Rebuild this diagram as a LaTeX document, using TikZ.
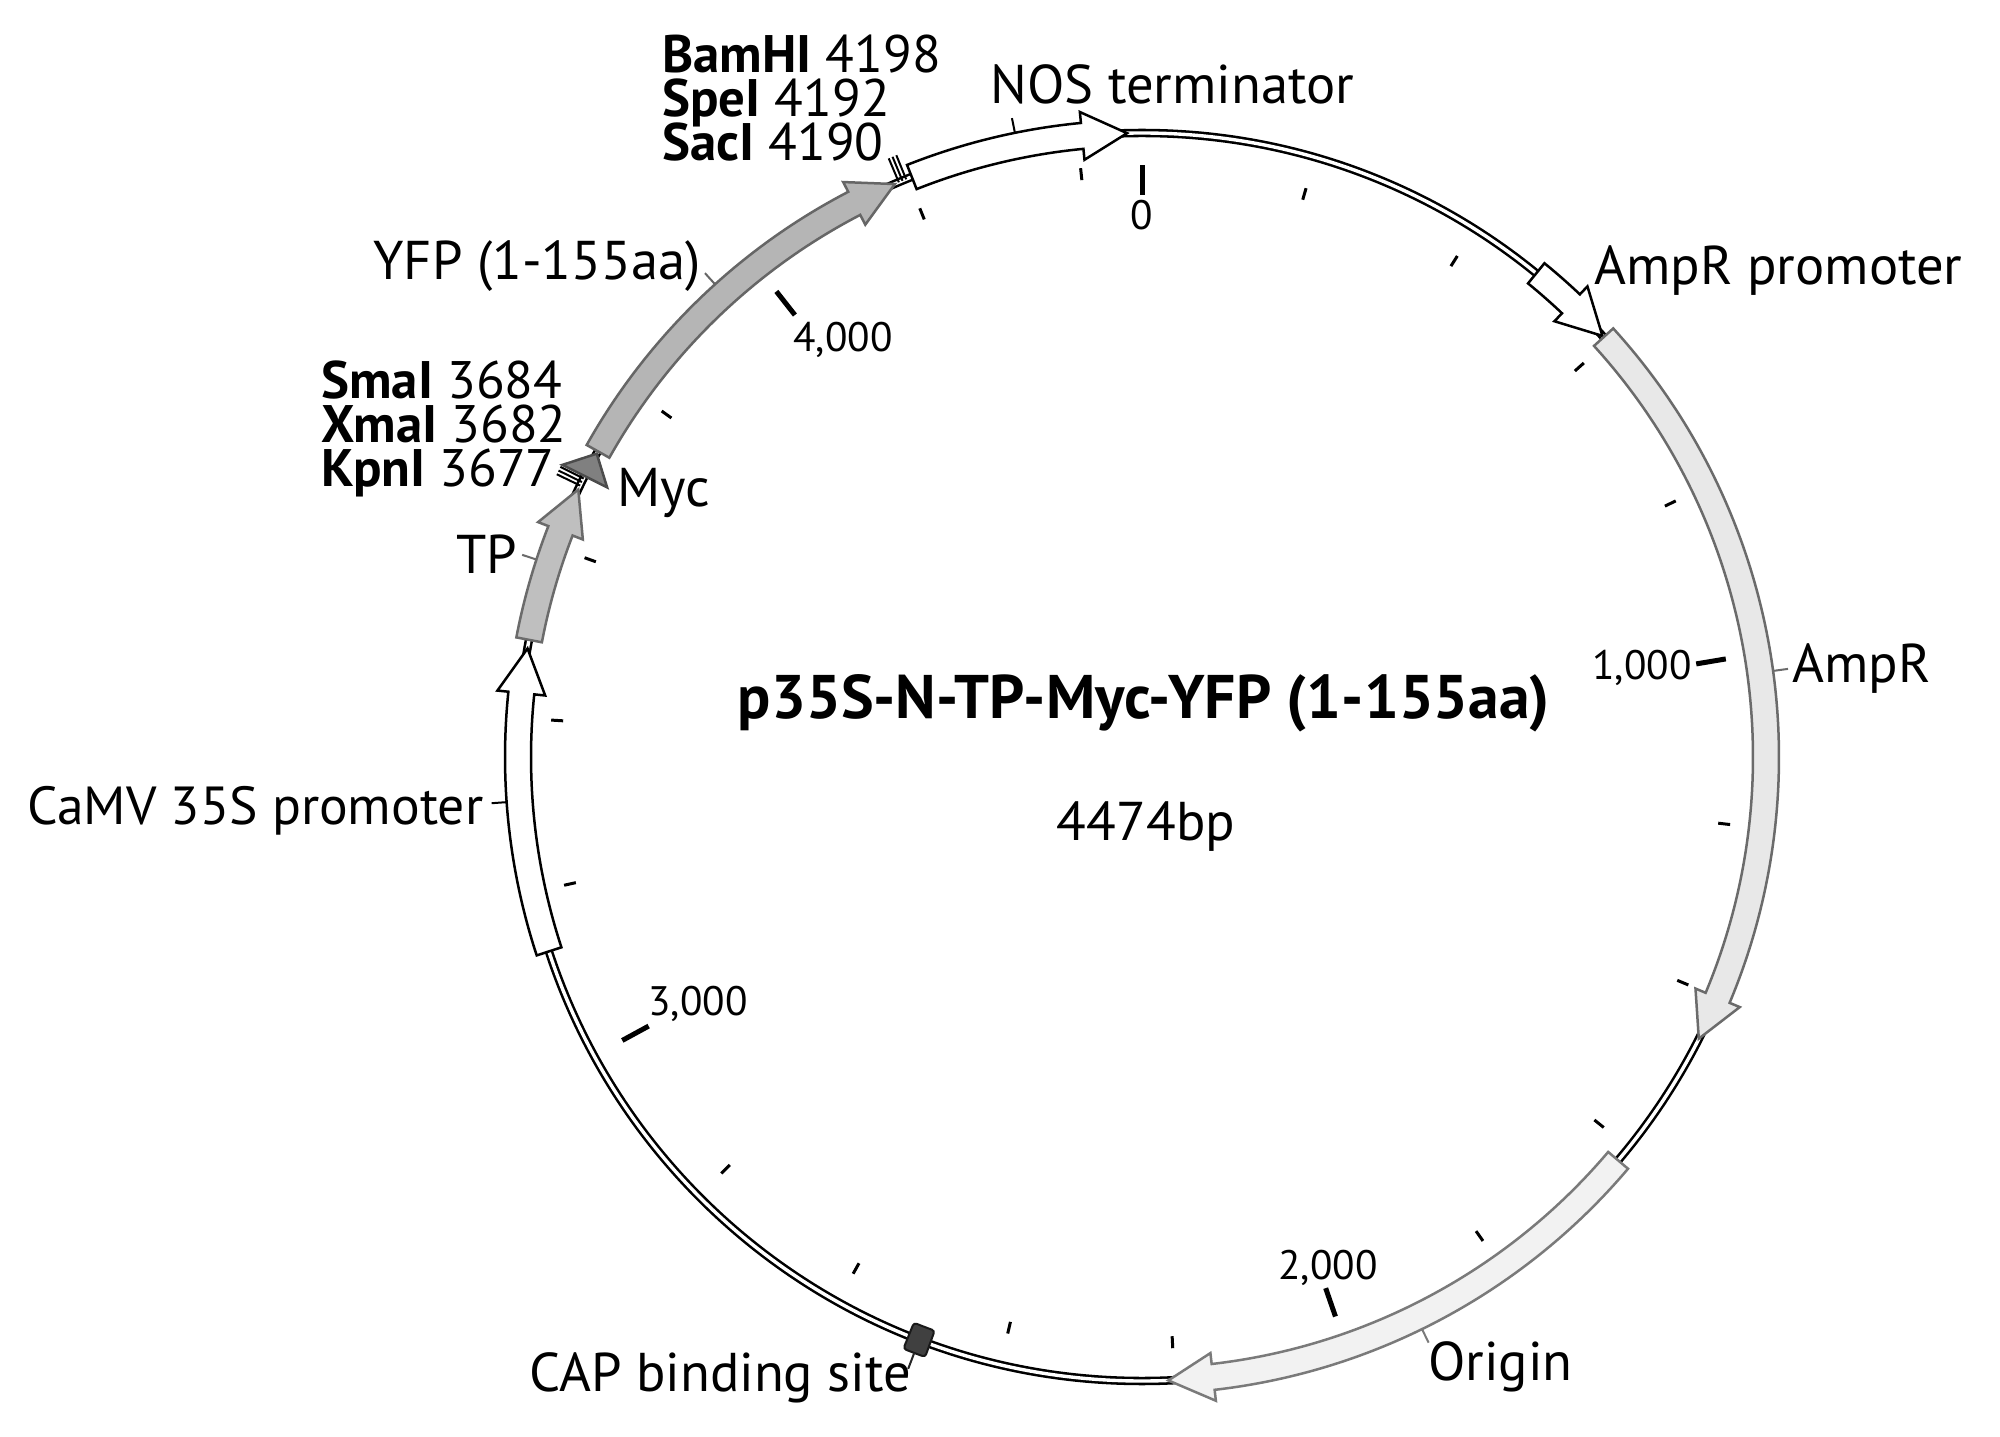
\documentclass[tikz,border=0pt]{standalone}
\usepackage{fontspec}
\setmainfont{PT Sans}
\newcommand{\plasang}[2]{\pgfmathsetmacro#1{90-(#2)/4474*360}}
\newcommand{\plasarrow}[3]{%
  \plasang\ta{#1}\plasang\tb{#2}%
  \pgfmathsetmacro\tc{\tb+4.13}%
  \draw[#3] (\ta:637) arc[start angle=\ta, end angle=\tc, radius=637] -- (\tc:648) -- (\tb:624) -- (\tc:600) -- (\tc:611) arc[start angle=\tc, end angle=\ta, radius=611] -- cycle;}
\newcommand{\plastri}[3]{%
  \plasang\ta{#1}\plasang\tb{#2}%
  \draw[#3] (\ta:649) -- (\tb:624) -- (\ta:599) -- cycle;}
\newcommand{\plasbox}[3]{%
  \plasang\ta{#1}\plasang\tb{#2}%
  \draw[#3] (\ta:638) arc[start angle=\ta, end angle=\tb, radius=638] -- (\tb:610) arc[start angle=\tb, end angle=\ta, radius=610] -- cycle;}
\newcommand{\plasmark}[4]{%
  \plasang\ta{#1}%
  \draw[#4] (\ta:#2) -- (\ta:#3);}
\begin{document}
\begin{tikzpicture}[x=0.5pt,y=0.5pt,
  lab/.style={font=\fontsize{27.3}{30}\selectfont, inner sep=0pt, anchor=base west},
  labe/.style={lab, anchor=base east},
  sitelab/.style={font={\fontsize{26.4}{22}\selectfont\lineskiplimit=-100pt\lineskip=0pt}, inner sep=0pt, anchor=base west, align=left},
  ticklab/.style={font=\fontsize{20.6}{22}\selectfont, inner sep=0pt, anchor=base west},
  title/.style={font=\fontsize{30.8}{34}\selectfont\bfseries, inner sep=0pt, anchor=base},
  featw/.style={fill=white, draw=black, line width=1.25pt, line join=miter},
  majtick/.style={line width=2.5pt},
  mintick/.style={line width=1.5pt},
  sitemark/.style={line width=1pt, black},
  leadk/.style={line width=1pt, black},
]
\useasboundingbox (0,0) rectangle (2000,1436);
\fill[white] (0,0) rectangle (2000,1436);
\begin{scope}[shift={(1142,679)}]
  % backbone
  \draw[line width=4.25pt, black] (0,0) circle[radius=624];
  \draw[line width=1.7pt, white] (0,0) circle[radius=624];
  % ticks
  \foreach \p in {0,1000,2000,3000,4000}
    \draw[majtick] ({90-\p/4474*360}:562) -- ({90-\p/4474*360}:592);
  \foreach \p in {200,400,600,800,1200,1400,1600,1800,2200,2400,2600,2800,3200,3400,3600,3800,4200,4400}
    \draw[mintick] ({90-\p/4474*360}:580) -- ({90-\p/4474*360}:592);
  % features
  \plasarrow{4205}{4457}{featw}
  \plasarrow{487}{591}{featw}
  \plasarrow{593}{1452}{fill=black!9, draw=black!58, line width=1.25pt}
  \plasarrow{1619}{2207}{fill=black!5, draw=black!52, line width=1.25pt}
  \plasbox{2484}{2510}{fill=black!75, draw=black!90, line width=1pt, rounded corners=1.5pt}
  \plasarrow{3130}{3480}{featw}
  \plasarrow{3490}{3671}{fill=black!25, draw=black!58, line width=1.25pt}
  \plastri{3688}{3717}{fill=black!50, draw=black!70, line width=1.25pt}
  \plasarrow{3720}{4184}{fill=black!29, draw=black!60, line width=1.25pt}
  % restriction sites
  \plasmark{3676}{624}{650}{sitemark}
  \plasmark{3680.5}{624}{650}{sitemark}
  \plasmark{3685}{624}{650}{sitemark}
  \plasmark{4189}{624}{650}{sitemark}
  \plasmark{4193.5}{624}{650}{sitemark}
  \plasmark{4198}{624}{650}{sitemark}
  % leaders
  \plasmark{4331}{637}{652}{leadk}
  \plasmark{1022}{637}{652}{line width=1pt, black!58}
  \plasmark{1913}{637}{652}{line width=1pt, black!52}
  \plasmark{2497}{638}{655}{line width=1pt, black!85}
  \plasmark{3305}{637}{652}{leadk}
  \plasmark{3580}{637}{652}{line width=1pt, black!58}
  \plasmark{3951}{637}{652}{line width=1pt, black!60}
\end{scope}
% tick labels
\node[ticklab, anchor=base] (t0) at (1142,1206) {0};
\node[ticklab, anchor=base east] (t1) at (1692,756) {1,000};
\node[ticklab] (t2) at (1278,157) {2,000};
\node[ticklab] (t3) at (648,421) {3,000};
\node[ticklab] (t4) at (793,1084) {4,000};
% site labels (one block per site cluster)
\node[sitelab] (sitesA) at (662,1275) {\textbf{BamHI} 4198\\\textbf{SpeI} 4192\\\textbf{SacI} 4190};
\node[sitelab] (sitesB) at (321,949) {\textbf{SmaI} 3684\\\textbf{XmaI} 3682\\\textbf{KpnI} 3677};
% feature labels
\node[lab] (nos) at (990,1332) {NOS terminator};
\node[lab] (ampp) at (1594,1151) {AmpR promoter};
\node[labe] (yfp) at (701,1156) {YFP (1-155aa)};
\node[lab] (myc) at (617,929) {Myc};
\node[lab] (tp) at (456,862) {TP};
\node[lab] (amp) at (1792,753) {AmpR};
\node[lab, font=\fontsize{26.8}{30}\selectfont] (camv) at (27,611) {CaMV 35S promoter};
\node[lab] (ori) at (1428,56) {Origin};
\node[lab] (cap) at (529,45) {CAP binding site};
% centre
\node[title] (ttl) at (1144,717) {p35S-N-TP-Myc-YFP (1-155aa)};
\node[lab, anchor=base] (len) at (1146,596) {4474bp};
\end{tikzpicture}
\end{document}
